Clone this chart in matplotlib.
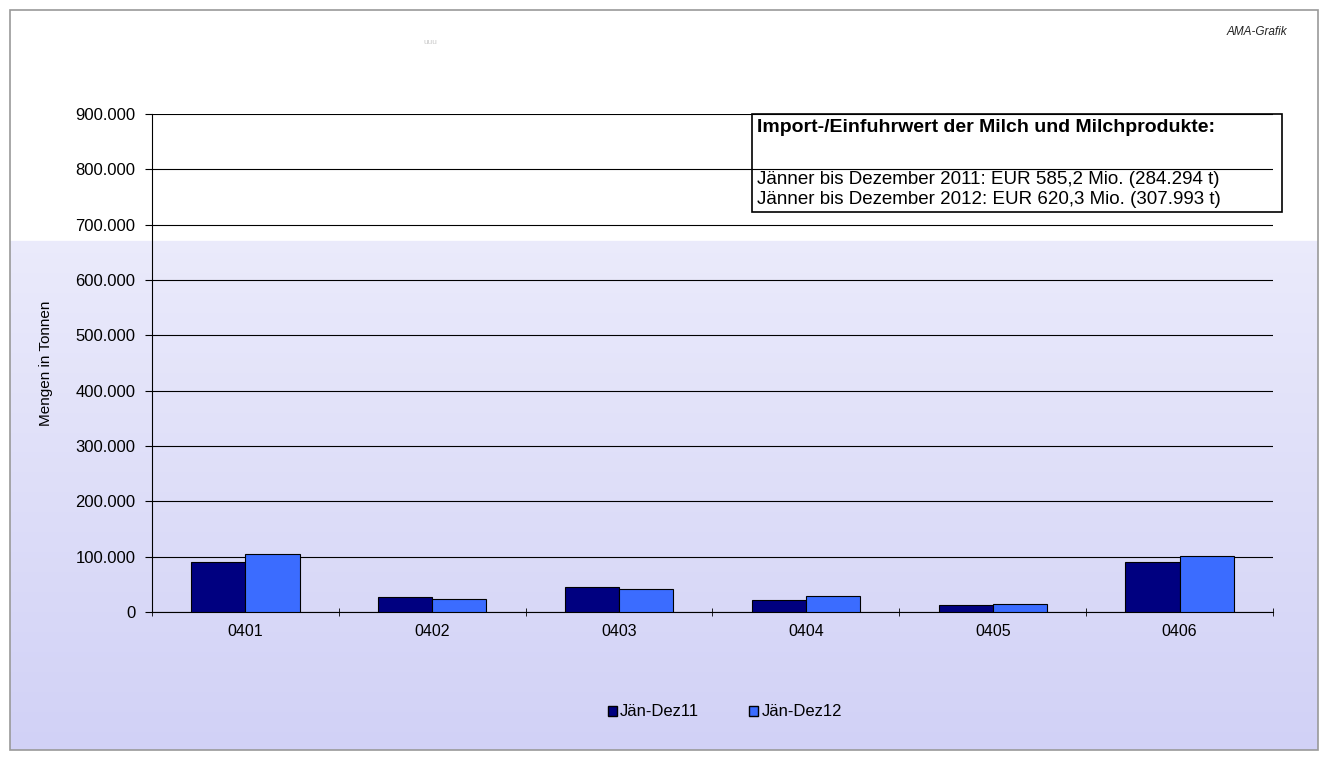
import numpy as np
import matplotlib
matplotlib.use('Agg')
import matplotlib.pyplot as plt
from matplotlib.patches import Rectangle, Patch
from matplotlib.ticker import FuncFormatter, FixedLocator

plt.rcParams['font.family'] = ['Liberation Sans', 'DejaVu Sans']

categories = ['0401', '0402', '0403', '0404', '0405', '0406']
jan_dez_11 = [91000, 27500, 44500, 21500, 12500, 91000]
jan_dez_12 = [105000, 23000, 41000, 29000, 14500, 101000]
series_labels = ['Jän-Dez11', 'Jän-Dez12']
box_title = 'Import-/Einfuhrwert der Milch und Milchprodukte:'
box_lines = ['Jänner bis Dezember 2011: EUR 585,2 Mio. (284.294 t)',
             'Jänner bis Dezember 2012: EUR 620,3 Mio. (307.993 t)']

DARK = '#000080'
LIGHT = '#3b6cff'

W, H = 1329, 760
fig = plt.figure(figsize=(W / 100, H / 100), dpi=100)

# background: white top, lavender gradient below
bg = fig.add_axes([0, 0, 1, 1], zorder=-10)
bg.set_xlim(0, W)
bg.set_ylim(H, 0)
bg.axis('off')
grad = np.ones((H, 1, 3))
y0 = 237
t = np.linspace(0, 1, H - y0)[:, None]
top_c = np.array([0.92, 0.92, 0.985])
bot_c = np.array([0.82, 0.82, 0.965])
grad[y0:, 0, :] = top_c + (bot_c - top_c) * t
bg.imshow(grad, extent=[10, 1318, H - 10, 10], aspect='auto')
bg.add_patch(Rectangle((10, 10), 1308, 740, facecolor='none', edgecolor='#999999', linewidth=1.2))
bg.text(1287, 32, 'AMA-Grafik', fontsize=8.5, style='italic', ha='right', va='center', color='#222222')
bg.text(430, 42, 'uuu', fontsize=6, ha='center', va='center', color='#cccccc')

ax = fig.add_axes([152 / W, 1 - 612 / H, (1273 - 152) / W, (612 - 114) / H])
ax.patch.set_alpha(0)
x = np.arange(len(categories))
bw = 0.29
ax.bar(x - bw / 2, jan_dez_11, bw, color=DARK, edgecolor='black', linewidth=0.8, zorder=3)
ax.bar(x + bw / 2, jan_dez_12, bw, color=LIGHT, edgecolor='black', linewidth=0.8, zorder=3)

ax.set_xlim(-0.5, len(categories) - 0.5)
ax.set_ylim(0, 900000)
ax.set_yticks(np.arange(0, 900001, 100000))
ax.yaxis.set_major_formatter(FuncFormatter(lambda v, p: f'{int(v):,}'.replace(',', '.')))
ax.grid(axis='y', color='black', linewidth=0.8, zorder=1)
ax.set_xticks(x)
ax.set_xticklabels(categories)
ax.xaxis.set_minor_locator(FixedLocator(np.arange(-0.5, len(categories), 1.0)))
ax.tick_params(axis='x', which='major', length=0, pad=9, labelsize=11.5)
ax.tick_params(axis='x', which='minor', length=6, direction='inout', color='black')
ax.tick_params(axis='y', length=5, direction='out', labelsize=12, pad=7)
for s in ['top', 'right']:
    ax.spines[s].set_visible(False)
ax.spines['left'].set_color('black')
ax.spines['bottom'].set_color('black')
ax.set_ylabel('Mengen in Tonnen', fontsize=11, labelpad=16)

# info box
bg.add_patch(Rectangle((752, 114), 530, 98, facecolor='white', edgecolor='black', linewidth=1.2, zorder=5))
bg.text(757, 127, box_title, fontsize=14, fontweight='bold', ha='left', va='center', zorder=6)
bg.text(757, 180, box_lines[0], fontsize=13.5, ha='left', va='center', zorder=6)
bg.text(757, 200, box_lines[1], fontsize=13.5, ha='left', va='center', zorder=6)

handles = [Patch(facecolor=DARK, edgecolor='black', label=series_labels[0]),
           Patch(facecolor=LIGHT, edgecolor='black', label=series_labels[1])]
fig.legend(handles=handles, loc='center', bbox_to_anchor=(725 / W, 1 - 712 / H), ncol=2,
           frameon=False, fontsize=12, handlelength=0.55, handleheight=0.55,
           handletextpad=0.2, columnspacing=3.0)

fig.savefig('out.png', dpi=100)
